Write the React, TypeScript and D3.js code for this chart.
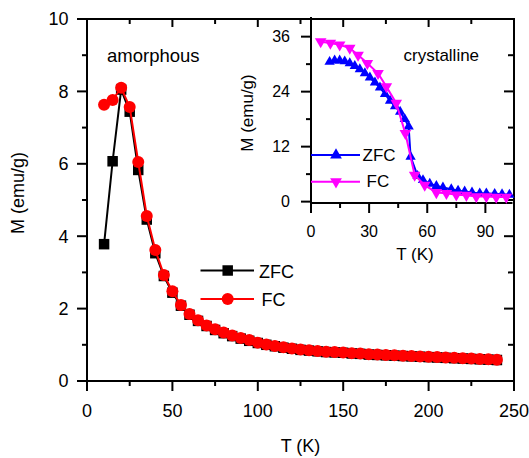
import React from "react";
import * as d3 from "d3";

// ---------- Main plot data (amorphous) ----------
const mainT = [10, 15, 20, 25, 30, 35, 40, 45, 50, 55, 60, 65, 70, 75, 80, 85, 90, 95, 100, 105, 110, 115, 120, 125, 130, 135, 140, 145, 150, 155, 160, 165, 170, 175, 180, 185, 190, 195, 200, 205, 210, 215, 220, 225, 230, 235, 240];
const mainZFC = [3.78, 6.07, 8.05, 7.44, 5.83, 4.46, 3.53, 2.9, 2.44, 2.08, 1.83, 1.66, 1.52, 1.41, 1.32, 1.24, 1.17, 1.11, 1.05, 1.0, 0.96, 0.92, 0.89, 0.86, 0.84, 0.82, 0.8, 0.79, 0.78, 0.76, 0.75, 0.73, 0.72, 0.71, 0.7, 0.69, 0.68, 0.67, 0.66, 0.65, 0.64, 0.63, 0.62, 0.61, 0.6, 0.59, 0.58];
const mainFC = [7.63, 7.76, 8.1, 7.57, 6.05, 4.56, 3.62, 2.93, 2.48, 2.1, 1.85, 1.68, 1.53, 1.43, 1.34, 1.26, 1.19, 1.13, 1.06, 1.01, 0.97, 0.93, 0.9, 0.87, 0.85, 0.83, 0.81, 0.8, 0.79, 0.77, 0.76, 0.74, 0.73, 0.72, 0.71, 0.7, 0.69, 0.68, 0.67, 0.66, 0.65, 0.64, 0.63, 0.62, 0.61, 0.6, 0.59];

const mainXTicks = [0, 50, 100, 150, 200, 250];
const mainXMinor = [25, 75, 125, 175, 225];
const mainYTicks = [0, 2, 4, 6, 8, 10];
const mainYMinor = [1, 3, 5, 7, 9];

// ---------- Inset data (crystalline) ----------
const insetZFCT = [9.6, 12.2, 14.8, 17.4, 20.0, 22.6, 25.2, 27.8, 30.4, 33.0, 35.6, 38.2, 40.8, 43.4, 46.0, 48.4, 50.4, 51.4, 55.0, 57.8, 61.3, 64.7, 68.1, 72.4, 75.9, 79.3, 83.1, 87.1, 90.5, 94.8, 98.6, 102.4];
const insetZFCM = [30.5, 30.8, 30.8, 30.6, 30.2, 29.6, 28.9, 28.0, 27.1, 26.0, 24.9, 23.5, 22.0, 20.8, 19.6, 18.0, 16.4, 9.8, 5.6, 4.7, 3.9, 3.4, 3.1, 2.7, 2.4, 2.2, 2.0, 1.8, 1.8, 1.7, 1.6, 1.5];
const insetFCT = [5.0, 10.0, 14.8, 20.0, 24.3, 29.1, 34.6, 38.9, 44.0, 48.7, 53.5, 58.7, 64.7, 69.9, 75.0, 80.2, 85.3, 90.5, 95.6, 100.8];
const insetFCM = [34.9, 34.6, 34.2, 33.5, 32.0, 30.2, 28.0, 25.1, 21.5, 14.9, 5.8, 3.6, 2.0, 1.8, 1.5, 1.4, 1.1, 1.1, 1.0, 1.0];

const insetXTicks = [0, 30, 60, 90];
const insetXMinor = [15, 45, 75];
const insetYTicks = [0, 12, 24, 36];
const insetYMinor = [6, 18, 30];

const FONT = "'Liberation Sans', Arial, Helvetica, sans-serif";

export default function App() {
  const x = d3.scaleLinear().domain([0, 250]).range([87, 514]);
  const y = d3.scaleLinear().domain([0, 10]).range([381, 19]);
  const xi = d3.scaleLinear().domain([0, 104]).range([311, 512.5]);
  const yi = d3.scaleLinear().domain([-0.3, 39.85]).range([203, 19]);

  const zfcPts = mainT.map((t, i) => [t, mainZFC[i]] as [number, number]);
  const fcPts = mainT.map((t, i) => [t, mainFC[i]] as [number, number]);
  const izPts = insetZFCT.map((t, i) => [t, insetZFCM[i]] as [number, number]);
  const ifPts = insetFCT.map((t, i) => [t, insetFCM[i]] as [number, number]);

  const mainLine = d3.line<[number, number]>().x((d) => x(d[0])).y((d) => y(d[1]));
  const insetLine = d3.line<[number, number]>().x((d) => xi(d[0])).y((d) => yi(d[1]));

  const square = d3.symbol().type(d3.symbolSquare).size(110)()!;
  const triSmall = d3.symbol().type(d3.symbolTriangle).size(46)()!;
  const triFC = d3.symbol().type(d3.symbolTriangle).size(58)()!;
  const triLegend = d3.symbol().type(d3.symbolTriangle).size(60)()!;

  const sw = 2;

  return (
    <svg
      width={529}
      height={458}
      style={{ position: "absolute", left: 0, top: 0, background: "#fff" }}
      fontFamily={FONT}
    >
      <rect x={0} y={0} width={529} height={458} fill="#fff" />

      {/* Main frame */}
      <rect x={x(0)} y={y(10)} width={x(250) - x(0)} height={y(0) - y(10)} fill="none" stroke="#000" strokeWidth={sw} />

      {/* Main bottom ticks (outward) */}
      {mainXTicks.map((t) => (
        <line key={"bx" + t} x1={x(t)} x2={x(t)} y1={y(0)} y2={y(0) + 10} stroke="#000" strokeWidth={sw} />
      ))}
      {mainXMinor.map((t) => (
        <line key={"bxm" + t} x1={x(t)} x2={x(t)} y1={y(0)} y2={y(0) + 5} stroke="#000" strokeWidth={sw} />
      ))}
      {/* Main top ticks (inward) */}
      {mainXTicks.map((t) => (
        <line key={"tx" + t} x1={x(t)} x2={x(t)} y1={y(10)} y2={y(10) + 8} stroke="#000" strokeWidth={sw} />
      ))}
      {mainXMinor.map((t) => (
        <line key={"txm" + t} x1={x(t)} x2={x(t)} y1={y(10)} y2={y(10) + 5} stroke="#000" strokeWidth={sw} />
      ))}
      {/* Main left ticks (outward) */}
      {mainYTicks.map((v) => (
        <line key={"ly" + v} x1={x(0) - 10} x2={x(0)} y1={y(v)} y2={y(v)} stroke="#000" strokeWidth={sw} />
      ))}
      {mainYMinor.map((v) => (
        <line key={"lym" + v} x1={x(0) - 5} x2={x(0)} y1={y(v)} y2={y(v)} stroke="#000" strokeWidth={sw} />
      ))}
      {/* Main right ticks (inward) */}
      {mainYTicks.map((v) => (
        <line key={"ry" + v} x1={x(250) - 10} x2={x(250)} y1={y(v)} y2={y(v)} stroke="#000" strokeWidth={sw} />
      ))}
      {mainYMinor.map((v) => (
        <line key={"rym" + v} x1={x(250) - 6} x2={x(250)} y1={y(v)} y2={y(v)} stroke="#000" strokeWidth={sw} />
      ))}

      {/* Main tick labels */}
      {mainXTicks.map((t) => (
        <text key={"bxl" + t} x={x(t)} y={416.5} fontSize={18} textAnchor="middle" fill="#000">
          {t}
        </text>
      ))}
      {mainYTicks.map((v) => (
        <text key={"lyl" + v} x={68.5} y={y(v) + 6.4} fontSize={18} textAnchor="end" fill="#000">
          {v}
        </text>
      ))}

      {/* Main axis titles */}
      <text x={300.5} y={451.5} fontSize={18} textAnchor="middle" fill="#000">T (K)</text>
      <text transform={`translate(24,193) rotate(-90)`} fontSize={18} textAnchor="middle" fill="#000">M (emu/g)</text>

      <text x={107} y={62} fontSize={18.5} fill="#000">amorphous</text>

      {/* Main series */}
      <path d={mainLine(zfcPts)!} fill="none" stroke="#000" strokeWidth={2} />
      {zfcPts.map((p, i) => (
        <path key={"zs" + i} d={square} transform={`translate(${x(p[0])},${y(p[1])})`} fill="#000" />
      ))}
      <path d={mainLine(fcPts)!} fill="none" stroke="#ff0000" strokeWidth={2} />
      {fcPts.map((p, i) => (
        <circle key={"fc" + i} cx={x(p[0])} cy={y(p[1])} r={6} fill="#ff0000" />
      ))}

      {/* Main legend */}
      <line x1={200.5} x2={254} y1={270.5} y2={270.5} stroke="#000" strokeWidth={2} />
      <path d={square} transform="translate(227.7,270.5)" fill="#000" />
      <text x={259} y={277.5} fontSize={18} fill="#000">ZFC</text>
      <line x1={200.5} x2={254} y1={299} y2={299} stroke="#ff0000" strokeWidth={2} />
      <circle cx={227.7} cy={299} r={6} fill="#ff0000" />
      <text x={261.5} y={305.5} fontSize={18} fill="#000">FC</text>

      {/* Inset axes */}
      <line x1={xi(0)} x2={xi(0)} y1={17} y2={yi(-0.3)} stroke="#000" strokeWidth={sw} />
      <line x1={xi(0)} x2={512.5} y1={yi(-0.3)} y2={yi(-0.3)} stroke="#000" strokeWidth={sw} />
      {insetYTicks.map((v) => (
        <line key={"iy" + v} x1={xi(0) - 10} x2={xi(0)} y1={yi(v)} y2={yi(v)} stroke="#000" strokeWidth={sw} />
      ))}
      {insetYMinor.map((v) => (
        <line key={"iym" + v} x1={xi(0) - 5} x2={xi(0)} y1={yi(v)} y2={yi(v)} stroke="#000" strokeWidth={sw} />
      ))}
      {insetXTicks.map((t) => (
        <line key={"ix" + t} x1={xi(t)} x2={xi(t)} y1={yi(-0.3)} y2={yi(-0.3) + 10} stroke="#000" strokeWidth={sw} />
      ))}
      {insetXMinor.map((t) => (
        <line key={"ixm" + t} x1={xi(t)} x2={xi(t)} y1={yi(-0.3)} y2={yi(-0.3) + 5} stroke="#000" strokeWidth={sw} />
      ))}
      {insetXTicks.map((t) => (
        <text key={"ixl" + t} x={xi(t)} y={236.7} fontSize={16} textAnchor="middle" fill="#000">
          {t}
        </text>
      ))}
      {insetYTicks.map((v) => (
        <text key={"iyl" + v} x={290} y={yi(v) + 5.7} fontSize={16} textAnchor="end" fill="#000">
          {v}
        </text>
      ))}
      <text x={415} y={260} fontSize={17} textAnchor="middle" fill="#000">T (K)</text>
      <text transform={`translate(253,113) rotate(-90)`} fontSize={17} textAnchor="middle" fill="#000">M (emu/g)</text>
      <text x={403.5} y={61} fontSize={17} fill="#000">crystalline</text>

      {/* Inset series */}
      <path d={insetLine(izPts)!} fill="none" stroke="#0000ff" strokeWidth={2} />
      {izPts.map((p, i) => (
        <path key={"iz" + i} d={triSmall} transform={`translate(${xi(p[0])},${yi(p[1])})`} fill="#0000ff" />
      ))}
      <path d={insetLine(ifPts)!} fill="none" stroke="#ff00ff" strokeWidth={2} />
      {ifPts.map((p, i) => (
        <path key={"if" + i} d={triFC} transform={`translate(${xi(p[0])},${yi(p[1])}) rotate(180)`} fill="#ff00ff" />
      ))}

      {/* Inset legend */}
      <line x1={311} x2={360} y1={155} y2={155} stroke="#0000ff" strokeWidth={2} />
      <path d={triLegend} transform="translate(336,155)" fill="#0000ff" />
      <text x={362.5} y={160.7} fontSize={17} fill="#000">ZFC</text>
      <line x1={311} x2={360} y1={181.7} y2={181.7} stroke="#ff00ff" strokeWidth={2} />
      <path d={triLegend} transform="translate(336,181.7) rotate(180)" fill="#ff00ff" />
      <text x={366.5} y={187.2} fontSize={17} fill="#000">FC</text>
    </svg>
  );
}
